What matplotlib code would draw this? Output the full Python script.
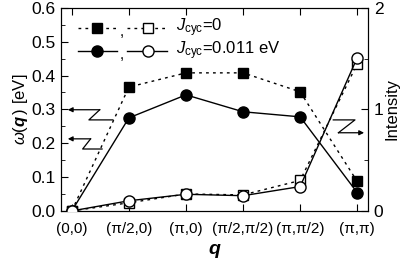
import matplotlib
matplotlib.use("Agg")
import matplotlib.pyplot as plt
from matplotlib.ticker import MultipleLocator, FormatStrFormatter

plt.rcParams['font.family'] = ['Liberation Sans', 'DejaVu Sans']
plt.rcParams['mathtext.fontset'] = 'custom'
plt.rcParams['mathtext.rm'] = 'Liberation Sans'
plt.rcParams['mathtext.it'] = 'Liberation Sans:italic'
plt.rcParams['mathtext.bf'] = 'Liberation Sans:bold:italic'

labels = ['(0,0)', '(π/2,0)', '(π,0)', '(π/2,π/2)', '(π,π/2)', '(π,π)']
x = list(range(len(labels)))

# energies (left axis, eV)
energy_j0 = [0.0, 0.366, 0.408, 0.408, 0.352, 0.087]
energy_j011 = [0.0, 0.275, 0.343, 0.293, 0.278, 0.054]
# intensities (right axis)
inten_j0 = [0.0, 0.08, 0.167, 0.158, 0.30, 1.45]
inten_j011 = [0.0, 0.10, 0.164, 0.15, 0.24, 1.51]

fig = plt.figure(figsize=(4.09, 2.63), dpi=100)
ax = fig.add_axes([0.149, 0.198, 0.751, 0.772])
ax2 = ax.twinx()

lw = 1.0
ax.plot(x, energy_j0, color='black', linestyle=(0, (2, 3)), lw=lw,
        marker='s', markersize=7, markerfacecolor='black', markeredgecolor='black', zorder=3)
ax.plot(x, energy_j011, color='black', linestyle='-', lw=lw,
        marker='o', markersize=8, markerfacecolor='black', markeredgecolor='black', zorder=3)
ax2.plot(x, inten_j0, color='black', linestyle=(0, (2, 3)), lw=lw,
         marker='s', markersize=7, markerfacecolor='white', markeredgecolor='black', zorder=3)
ax2.plot(x, inten_j011, color='black', linestyle='-', lw=lw,
         marker='o', markersize=8, markerfacecolor='white', markeredgecolor='black', zorder=4)

ax.set_xlim(-0.19, 5.19)
ax.set_ylim(0, 0.6)
ax2.set_ylim(0, 2)

ax.set_xticks(x)
ax.set_xticklabels(labels)
ax.yaxis.set_major_locator(MultipleLocator(0.1))
ax.yaxis.set_minor_locator(MultipleLocator(0.05))
ax.yaxis.set_major_formatter(FormatStrFormatter('%.1f'))
ax2.yaxis.set_major_locator(MultipleLocator(1))
ax2.yaxis.set_minor_locator(MultipleLocator(0.5))

ax.tick_params(axis='both', which='both', direction='in', top=True)
ax.tick_params(axis='y', labelsize=12.5, pad=4)
ax.tick_params(axis='x', labelsize=11, pad=8)
ax.tick_params(which='major', length=5)
ax.tick_params(which='minor', length=3)
ax.tick_params(axis='y', which='both', right=False)
ax2.tick_params(axis='y', which='both', direction='in', labelsize=12.5, pad=4)
ax2.tick_params(which='major', length=5)
ax2.tick_params(which='minor', length=3)

ax.set_xlabel(r'$\mathbf{q}$', fontsize=14, labelpad=4)
ax.set_ylabel(r'$\omega(\mathbf{q}\,)$ [eV]', fontsize=12, labelpad=1)
ax2.set_ylabel('Intensity', fontsize=12, labelpad=1)

# zigzag arrows
def zigzag(axis, pts):
    xs = [p[0] for p in pts[:-1]]
    ys = [p[1] for p in pts[:-1]]
    axis.plot(xs, ys, color='black', lw=0.9)
    axis.annotate('', xy=pts[-1], xytext=pts[-2],
                  arrowprops=dict(arrowstyle='-|>', color='black', lw=0.9,
                                  mutation_scale=7, shrinkA=0, shrinkB=0))

zigzag(ax, [(0.72, 0.269), (0.30, 0.269), (0.49, 0.299), (-0.07, 0.299)])
zigzag(ax, [(0.53, 0.183), (0.19, 0.183), (0.33, 0.213), (-0.07, 0.213)])
zigzag(ax, [(4.58, 0.269), (4.96, 0.269), (4.67, 0.231), (5.12, 0.231)])

# manual legend
T = ax.transAxes
for yy, ls, mk, ms, txt in [(0.901, (0, (2, 3)), 's', 7, r'$J_{\rm cyc}$=0'),
                            (0.788, '-', 'o', 8, r'$J_{\rm cyc}$=0.011 eV')]:
    ax.plot([0.055, 0.182], [yy, yy], transform=T, color='black', ls=ls, lw=lw)
    ax.plot([0.117], [yy], transform=T, marker=mk, ms=ms, mfc='black', mec='black', color='black')
    ax.text(0.19, yy - 0.02, ',', transform=T, fontsize=11, va='center', ha='left')
    ax.plot([0.215, 0.345], [yy, yy], transform=T, color='black', ls=ls, lw=lw)
    ax.plot([0.283], [yy], transform=T, marker=mk, ms=ms, mfc='white', mec='black', color='black')
    ax.text(0.375, yy, txt, transform=T, fontsize=12, va='center', ha='left')

fig.savefig('out.png', dpi=100)
